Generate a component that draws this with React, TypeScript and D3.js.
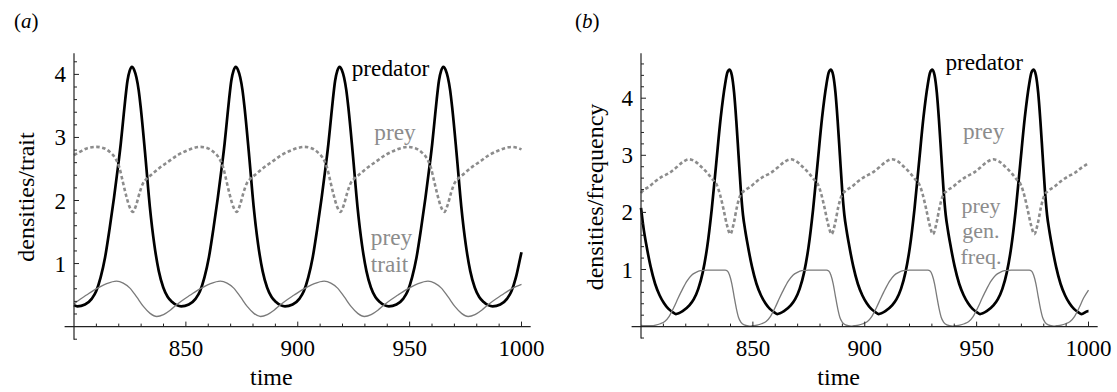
import * as d3 from 'd3'

type Pt = [number, number]

// time axis
const timeDomain = [800, 1000]
const xMajorTicks = [850, 900, 950, 1000]
const yMajorTicks = [1, 2, 3, 4]

// (a) predator density
const predatorA: Pt[] = [
  [800, 0.34], [801.5, 0.32], [804.9, 0.35], [807.9, 0.44], [809.9, 0.56], [811.9, 0.78], [813.9, 1.1], [815.9, 1.55],
  [817.9, 2.05], [819.9, 2.6], [820.9, 2.9], [821.9, 3.25], [822.9, 3.6], [823.9, 3.9], [824.9, 4.06], [825.9, 4.12],
  [826.9, 4.07], [827.9, 3.95], [828.9, 3.75], [829.9, 3.45], [831.9, 2.7], [833.9, 1.9], [835.9, 1.3], [837.9, 0.88],
  [839.9, 0.62], [841.9, 0.47], [843.9, 0.39], [845.9, 0.34], [847.9, 0.32],
  [851.3, 0.35], [854.3, 0.44], [856.3, 0.56], [858.3, 0.78], [860.3, 1.1], [862.3, 1.55], [864.3, 2.05], [866.3, 2.6],
  [867.3, 2.9], [868.3, 3.25], [869.3, 3.6], [870.3, 3.9], [871.3, 4.06], [872.3, 4.12], [873.3, 4.07], [874.3, 3.95],
  [875.3, 3.75], [876.3, 3.45], [878.3, 2.7], [880.3, 1.9], [882.3, 1.3], [884.3, 0.88], [886.3, 0.62], [888.3, 0.47],
  [890.3, 0.39], [892.3, 0.34], [894.3, 0.32],
  [897.7, 0.35], [900.7, 0.44], [902.7, 0.56], [904.7, 0.78], [906.7, 1.1], [908.7, 1.55], [910.7, 2.05], [912.7, 2.6],
  [913.7, 2.9], [914.7, 3.25], [915.7, 3.6], [916.7, 3.9], [917.7, 4.06], [918.7, 4.12], [919.7, 4.07], [920.7, 3.95],
  [921.7, 3.75], [922.7, 3.45], [924.7, 2.7], [926.7, 1.9], [928.7, 1.3], [930.7, 0.88], [932.7, 0.62], [934.7, 0.47],
  [936.7, 0.39], [938.7, 0.34], [940.7, 0.32],
  [944.1, 0.35], [947.1, 0.44], [949.1, 0.56], [951.1, 0.78], [953.1, 1.1], [955.1, 1.55], [957.1, 2.05], [959.1, 2.6],
  [960.1, 2.9], [961.1, 3.25], [962.1, 3.6], [963.1, 3.9], [964.1, 4.06], [965.1, 4.12], [966.1, 4.07], [967.1, 3.95],
  [968.1, 3.75], [969.1, 3.45], [971.1, 2.7], [973.1, 1.9], [975.1, 1.3], [977.1, 0.88], [979.1, 0.62], [981.1, 0.47],
  [983.1, 0.39], [985.1, 0.34], [987.1, 0.32],
  [990.5, 0.35], [993.5, 0.44], [995.5, 0.56], [997.5, 0.78], [999.5, 1.1], [1000, 1.18],
]

// (a) prey density
const preyA: Pt[] = [
  [800, 2.72], [803, 2.78], [806, 2.83], [810, 2.85], [813.3, 2.83], [816.3, 2.76], [818.3, 2.68], [820.3, 2.52],
  [821.8, 2.3], [823.3, 2.08], [824.8, 1.9], [826.3, 1.82], [827.8, 1.93], [829.3, 2.12], [830.8, 2.27], [832.3, 2.34],
  [834.3, 2.4], [838.3, 2.52], [842.3, 2.62], [846.3, 2.72], [850.3, 2.79], [853.3, 2.83], [856.4, 2.85],
  [859.7, 2.83], [862.7, 2.76], [864.7, 2.68], [866.7, 2.52], [868.2, 2.3], [869.7, 2.08], [871.2, 1.9], [872.7, 1.82],
  [874.2, 1.93], [875.7, 2.12], [877.2, 2.27], [878.7, 2.34], [880.7, 2.4], [884.7, 2.52], [888.7, 2.62], [892.7, 2.72],
  [896.7, 2.79], [899.7, 2.83], [902.8, 2.85],
  [906.1, 2.83], [909.1, 2.76], [911.1, 2.68], [913.1, 2.52], [914.6, 2.3], [916.1, 2.08], [917.6, 1.9], [919.1, 1.82],
  [920.6, 1.93], [922.1, 2.12], [923.6, 2.27], [925.1, 2.34], [927.1, 2.4], [931.1, 2.52], [935.1, 2.62], [939.1, 2.72],
  [943.1, 2.79], [946.1, 2.83], [949.2, 2.85],
  [952.5, 2.83], [955.5, 2.76], [957.5, 2.68], [959.5, 2.52], [961, 2.3], [962.5, 2.08], [964, 1.9], [965.5, 1.82],
  [967, 1.93], [968.5, 2.12], [970, 2.27], [971.5, 2.34], [973.5, 2.4], [977.5, 2.52], [981.5, 2.62], [985.5, 2.72],
  [989.5, 2.79], [992.5, 2.83], [995.6, 2.85], [998.6, 2.83], [1000, 2.81],
]

// (a) prey trait
const traitA: Pt[] = [
  [800, 0.36], [802.6, 0.43], [805.6, 0.5], [808.6, 0.57], [811.6, 0.63], [814.6, 0.68], [819, 0.72], [822, 0.69],
  [825, 0.61], [828, 0.47], [831, 0.32], [834, 0.21], [837, 0.16],
  [840, 0.19], [843, 0.26], [846, 0.35], [849, 0.43], [852, 0.5], [855, 0.57], [858, 0.63], [861, 0.68], [865.4, 0.72],
  [868.4, 0.69], [871.4, 0.61], [874.4, 0.47], [877.4, 0.32], [880.4, 0.21], [883.4, 0.16],
  [886.4, 0.19], [889.4, 0.26], [892.4, 0.35], [895.4, 0.43], [898.4, 0.5], [901.4, 0.57], [904.4, 0.63], [907.4, 0.68],
  [911.8, 0.72], [914.8, 0.69], [917.8, 0.61], [920.8, 0.47], [923.8, 0.32], [926.8, 0.21], [929.8, 0.16],
  [932.8, 0.19], [935.8, 0.26], [938.8, 0.35], [941.8, 0.43], [944.8, 0.5], [947.8, 0.57], [950.8, 0.63], [953.8, 0.68],
  [958.2, 0.72], [961.2, 0.69], [964.2, 0.61], [967.2, 0.47], [970.2, 0.32], [973.2, 0.21], [976.2, 0.16],
  [979.2, 0.19], [982.2, 0.26], [985.2, 0.35], [988.2, 0.43], [991.2, 0.5], [994.2, 0.57], [997.2, 0.63], [1000, 0.67],
]

// (b) predator density
const predatorB: Pt[] = [
  [800, 2.08], [801.3, 1.68], [802.3, 1.45], [804.3, 1.05], [806.3, 0.75], [808.3, 0.55], [810.3, 0.41], [812.3, 0.31],
  [814.3, 0.25], [815.6, 0.22],
  [818.6, 0.27], [821.6, 0.37], [823.6, 0.48], [825.6, 0.66], [827.6, 0.95], [829.6, 1.4], [831.6, 2.05], [833.6, 2.85],
  [835.6, 3.65], [837.6, 4.25], [838.6, 4.45], [839.6, 4.5], [840.6, 4.4], [841.6, 4.1], [842.6, 3.6], [843.6, 3.0],
  [844.6, 2.4], [845.6, 1.95], [846.6, 1.68], [847.6, 1.45], [849.6, 1.05], [851.6, 0.75], [853.6, 0.55], [855.6, 0.41],
  [857.6, 0.31], [859.6, 0.25], [860.9, 0.22],
  [863.9, 0.27], [866.9, 0.37], [868.9, 0.48], [870.9, 0.66], [872.9, 0.95], [874.9, 1.4], [876.9, 2.05], [878.9, 2.85],
  [880.9, 3.65], [882.9, 4.25], [883.9, 4.45], [884.9, 4.5], [885.9, 4.4], [886.9, 4.1], [887.9, 3.6], [888.9, 3.0],
  [889.9, 2.4], [890.9, 1.95], [891.9, 1.68], [892.9, 1.45], [894.9, 1.05], [896.9, 0.75], [898.9, 0.55], [900.9, 0.41],
  [902.9, 0.31], [904.9, 0.25], [906.2, 0.22],
  [909.2, 0.27], [912.2, 0.37], [914.2, 0.48], [916.2, 0.66], [918.2, 0.95], [920.2, 1.4], [922.2, 2.05], [924.2, 2.85],
  [926.2, 3.65], [928.2, 4.25], [929.2, 4.45], [930.2, 4.5], [931.2, 4.4], [932.2, 4.1], [933.2, 3.6], [934.2, 3.0],
  [935.2, 2.4], [936.2, 1.95], [937.2, 1.68], [938.2, 1.45], [940.2, 1.05], [942.2, 0.75], [944.2, 0.55], [946.2, 0.41],
  [948.2, 0.31], [950.2, 0.25], [951.5, 0.22],
  [954.5, 0.27], [957.5, 0.37], [959.5, 0.48], [961.5, 0.66], [963.5, 0.95], [965.5, 1.4], [967.5, 2.05], [969.5, 2.85],
  [971.5, 3.65], [973.5, 4.25], [974.5, 4.45], [975.5, 4.5], [976.5, 4.4], [977.5, 4.1], [978.5, 3.6], [979.5, 3.0],
  [980.5, 2.4], [981.5, 1.95], [982.5, 1.68], [983.5, 1.45], [985.5, 1.05], [987.5, 0.75], [989.5, 0.55], [991.5, 0.41],
  [993.5, 0.31], [995.5, 0.25], [996.8, 0.22], [999.8, 0.27], [1000, 0.27],
]

// (b) prey density
const preyB: Pt[] = [
  [800, 2.34], [800.6, 2.37], [803.6, 2.45], [806.6, 2.55], [809.6, 2.63], [812.6, 2.69], [815.6, 2.78], [818.6, 2.88],
  [821.5, 2.93],
  [823.9, 2.9], [826.9, 2.8], [829.9, 2.68], [831.9, 2.58], [833.9, 2.48], [835.4, 2.3], [836.9, 2.05], [838.4, 1.78],
  [839.9, 1.62], [841.4, 1.8], [842.9, 2.1], [844.4, 2.3], [845.9, 2.37], [848.9, 2.45], [851.9, 2.55], [854.9, 2.63],
  [857.9, 2.69], [860.9, 2.78], [863.9, 2.88], [866.8, 2.93],
  [869.2, 2.9], [872.2, 2.8], [875.2, 2.68], [877.2, 2.58], [879.2, 2.48], [880.7, 2.3], [882.2, 2.05], [883.7, 1.78],
  [885.2, 1.62], [886.7, 1.8], [888.2, 2.1], [889.7, 2.3], [891.2, 2.37], [894.2, 2.45], [897.2, 2.55], [900.2, 2.63],
  [903.2, 2.69], [906.2, 2.78], [909.2, 2.88], [912.1, 2.93],
  [914.5, 2.9], [917.5, 2.8], [920.5, 2.68], [922.5, 2.58], [924.5, 2.48], [926, 2.3], [927.5, 2.05], [929, 1.78],
  [930.5, 1.62], [932, 1.8], [933.5, 2.1], [935, 2.3], [936.5, 2.37], [939.5, 2.45], [942.5, 2.55], [945.5, 2.63],
  [948.5, 2.69], [951.5, 2.78], [954.5, 2.88], [957.4, 2.93],
  [959.8, 2.9], [962.8, 2.8], [965.8, 2.68], [967.8, 2.58], [969.8, 2.48], [971.3, 2.3], [972.8, 2.05], [974.3, 1.78],
  [975.8, 1.62], [977.3, 1.8], [978.8, 2.1], [980.3, 2.3], [981.8, 2.37], [984.8, 2.45], [987.8, 2.55], [990.8, 2.63],
  [993.8, 2.69], [996.8, 2.78], [1000, 2.86],
]

// (b) prey genotype frequency
const freqB: Pt[] = [
  [800, 0.02], [802, 0.015], [804.6, 0.015], [806.6, 0.025], [808.6, 0.05], [810.6, 0.09], [812.6, 0.18], [814.6, 0.33],
  [816.6, 0.5], [818.6, 0.66], [820.6, 0.8], [822.6, 0.9], [824.6, 0.95], [826.6, 0.98], [829.6, 0.99], [837.6, 0.99],
  [838.6, 0.975], [839.6, 0.9], [840.6, 0.75], [841.6, 0.53], [842.6, 0.32], [843.6, 0.16], [844.6, 0.08], [846.1, 0.03],
  [848.6, 0.01],
  [849.9, 0.015], [851.9, 0.025], [853.9, 0.05], [855.9, 0.09], [857.9, 0.18], [859.9, 0.33], [861.9, 0.5], [863.9, 0.66],
  [865.9, 0.8], [867.9, 0.9], [869.9, 0.95], [871.9, 0.98], [874.9, 0.99], [882.9, 0.99], [883.9, 0.975], [884.9, 0.9],
  [885.9, 0.75], [886.9, 0.53], [887.9, 0.32], [888.9, 0.16], [889.9, 0.08], [891.4, 0.03], [893.9, 0.01],
  [895.2, 0.015], [897.2, 0.025], [899.2, 0.05], [901.2, 0.09], [903.2, 0.18], [905.2, 0.33], [907.2, 0.5], [909.2, 0.66],
  [911.2, 0.8], [913.2, 0.9], [915.2, 0.95], [917.2, 0.98], [920.2, 0.99], [928.2, 0.99], [929.2, 0.975], [930.2, 0.9],
  [931.2, 0.75], [932.2, 0.53], [933.2, 0.32], [934.2, 0.16], [935.2, 0.08], [936.7, 0.03], [939.2, 0.01],
  [940.5, 0.015], [942.5, 0.025], [944.5, 0.05], [946.5, 0.09], [948.5, 0.18], [950.5, 0.33], [952.5, 0.5], [954.5, 0.66],
  [956.5, 0.8], [958.5, 0.9], [960.5, 0.95], [962.5, 0.98], [965.5, 0.99], [973.5, 0.99], [974.5, 0.975], [975.5, 0.9],
  [976.5, 0.75], [977.5, 0.53], [978.5, 0.32], [979.5, 0.16], [980.5, 0.08], [982, 0.03], [984.5, 0.01],
  [985.8, 0.015], [987.8, 0.025], [989.8, 0.05], [991.8, 0.09], [993.8, 0.18], [995.8, 0.33], [997.8, 0.5], [1000, 0.64],
]

// single family, no fallback list (fallback lists fell through to a sans face here)
const SERIF = { fontFamily: "'Liberation Serif'" }
const GREY = '#8c8c8c'
const AXIS = '#222'

type Label = { text: string; x: number; y: number; color: string; size?: number }

function Panel({ tag, tagX, x0, unit, yTop, yTitle, yTitleX, timeX, lines, labels }: {
  tag: string
  tagX: number
  x0: number
  unit: number
  yTop: number
  yTitle: string
  yTitleX: number
  timeX: number
  lines: { data: Pt[]; color: string; width: number; dash?: string }[]
  labels: Label[]
}) {
  const y0 = 326.6
  const x = d3.scaleLinear().domain(timeDomain).range([x0, x0 + 447.5])
  const y = d3.scaleLinear().domain([0, 1]).range([y0, y0 - unit])
  const line = d3.line<Pt>().x(d => x(d[0])).y(d => y(d[1])).curve(d3.curveMonotoneX)

  const xMinor = d3.range(810, 1000, 10).filter(t => !xMajorTicks.includes(t))
  const yMinor = d3.range(-1, Math.floor(yTop * 5) + 1)
    .map(i => i / 5)
    .filter(v => Math.abs(v) > 1e-6 && !yMajorTicks.some(m => Math.abs(m - v) < 1e-6))

  return (
    <g>
      <text x={tagX} y={28} fontSize={21} style={SERIF}>
        (<tspan fontStyle="italic">{tag}</tspan>)
      </text>

      {lines.map((l, i) => (
        <path key={i} d={line(l.data) ?? ''} fill="none" stroke={l.color} strokeWidth={l.width}
          strokeDasharray={l.dash} strokeLinejoin="round" />
      ))}

      {/* axes cross at (800, 0) */}
      <line x1={x(795.8)} x2={x(1004.1)} y1={y0} y2={y0} stroke={AXIS} strokeWidth={1.2} />
      <line x1={x0} x2={x0} y1={y(-0.21)} y2={53.3} stroke={AXIS} strokeWidth={1.2} />
      {xMajorTicks.map(t => (
        <g key={t}>
          <line x1={x(t)} x2={x(t)} y1={y0} y2={y0 - 5} stroke={AXIS} strokeWidth={1} />
          <text x={x(t)} y={356} textAnchor="middle" fontSize={23} style={SERIF}>{t}</text>
        </g>
      ))}
      {xMinor.map(t => (
        <line key={t} x1={x(t)} x2={x(t)} y1={y0} y2={y0 - 3} stroke={AXIS} strokeWidth={1} />
      ))}
      {yMajorTicks.map(v => (
        <g key={v}>
          <line x1={x0} x2={x0 + 5} y1={y(v)} y2={y(v)} stroke={AXIS} strokeWidth={1} />
          <text x={x0 - 8} y={y(v) + 8} textAnchor="end" fontSize={23} style={SERIF}>{v}</text>
        </g>
      ))}
      {yMinor.map(v => (
        <line key={v} x1={x0} x2={x0 + 3} y1={y(v)} y2={y(v)} stroke={AXIS} strokeWidth={1} />
      ))}

      <text x={timeX} y={385} textAnchor="middle" fontSize={24} style={SERIF}>time</text>
      <text transform={`translate(${yTitleX},${197}) rotate(-90)`} textAnchor="middle" fontSize={24} style={SERIF}>
        {yTitle}
      </text>

      {labels.map((l, i) => (
        <text key={i} x={l.x} y={l.y} textAnchor="middle" fontSize={l.size ?? 23.3} fill={l.color} style={SERIF}>
          {l.text}
        </text>
      ))}
    </g>
  )
}

export default function App() {
  return (
    <svg width={1117} height={392} style={{ position: 'absolute', left: 0, top: 0, background: '#fff' }}>
      <Panel
        tag="a" tagX={14} x0={74} unit={63.05} yTop={4.34}
        yTitle="densities/trait" yTitleX={33.5} timeX={271.3}
        lines={[
          { data: predatorA, color: '#000', width: 2.7 },
          { data: preyA, color: GREY, width: 2.6, dash: '3.5 2.5' },
          { data: traitA, color: '#7a7a7a', width: 1.3 },
        ]}
        labels={[
          { text: 'predator', x: 390.5, y: 76, color: '#000' },
          { text: 'prey', x: 395, y: 139.5, color: GREY },
          { text: 'prey', x: 391.5, y: 245, color: GREY },
          { text: 'trait', x: 389.5, y: 271.5, color: GREY },
        ]}
      />
      <Panel
        tag="b" tagX={575} x0={641} unit={57.1} yTop={4.79}
        yTitle="densities/frequency" yTitleX={603} timeX={838.7}
        lines={[
          { data: predatorB, color: '#000', width: 2.7 },
          { data: preyB, color: GREY, width: 2.6, dash: '3.5 2.5' },
          { data: freqB, color: '#7a7a7a', width: 1.3 },
        ]}
        labels={[
          { text: 'predator', x: 984.2, y: 70, color: '#000' },
          { text: 'prey', x: 983.6, y: 139, color: GREY },
          { text: 'prey', x: 981, y: 212.5, color: GREY, size: 22 },
          { text: 'gen.', x: 981, y: 238, color: GREY, size: 22 },
          { text: 'freq.', x: 981, y: 263.5, color: GREY, size: 22 },
        ]}
      />
    </svg>
  )
}
